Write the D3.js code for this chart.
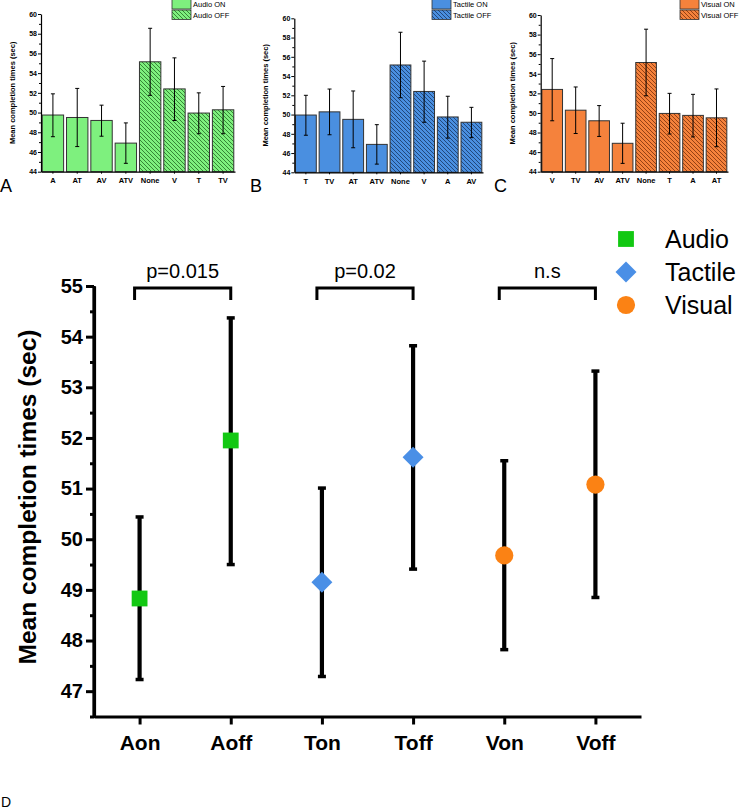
<!DOCTYPE html>
<html><head><meta charset="utf-8">
<script src="https://cdn.jsdelivr.net/npm/d3@7"></script>
<style>body{margin:0;background:#fff}svg{display:block;font-family:"Liberation Sans",Arial,sans-serif}</style>
</head><body>
<svg id="c" width="743" height="809"></svg>
<script>
// ---- Top panels data ----
const panelACats = ["A","AT","AV","ATV","None","V","T","TV"];
const panelAMeans = [49.75,49.5,49.2,46.9,55.15,52.4,49.95,50.28];
const panelALow = [47.55,46.55,47.6,44.85,51.75,49.2,47.85,47.85];
const panelAHigh = [51.9,52.45,50.75,48.95,58.55,55.55,52.0,52.65];

const panelBCats = ["T","TV","AT","ATV","None","V","A","AV"];
const panelBMeans = [49.95,50.28,49.5,46.9,55.15,52.4,49.75,49.2];
const panelBLow = [47.85,47.9,46.55,44.85,51.75,49.2,47.55,47.6];
const panelBHigh = [52.0,52.65,52.45,48.95,58.55,55.55,51.9,50.75];

const panelCCats = ["V","TV","AV","ATV","None","T","A","AT"];
const panelCMeans = [52.4,50.28,49.2,46.9,55.15,49.95,49.75,49.5];
const panelCLow = [49.2,47.9,47.6,44.85,51.75,47.85,47.55,46.55];
const panelCHigh = [55.55,52.65,50.75,48.95,58.55,52.0,51.9,52.45];

const panelYTicks = [44,46,48,50,52,54,56,58,60];

// ---- Main panel data ----
const mainCats = ["Aon","Aoff","Ton","Toff","Von","Voff"];
const mainMeans = [48.83,51.95,49.15,51.62,49.68,51.08];
const mainLow = [47.23,49.5,47.29,49.41,47.82,48.85];
const mainHigh = [50.44,54.37,51.01,53.82,51.55,53.32];
const mainGroup = ["Audio","Audio","Tactile","Tactile","Visual","Visual"];
const mainYTicks = [47,48,49,50,51,52,53,54,55];
const legendNames = ["Audio","Tactile","Visual"];
const brackets = [{a:"Aon",b:"Aoff",label:"p=0.015"},{a:"Ton",b:"Toff",label:"p=0.02"},{a:"Von",b:"Voff",label:"n.s"}];

const svg = d3.select("#c");
const defs = svg.append("defs");

function hatch(id, bg, line){
  const p = defs.append("pattern").attr("id",id).attr("patternUnits","userSpaceOnUse")
    .attr("width",4).attr("height",4);
  p.append("rect").attr("width",4).attr("height",4).attr("fill",bg);
  p.append("path").attr("d","M-1,-1 L5,5 M-1,3 L1,5 M3,-1 L5,1").attr("stroke",line).attr("stroke-width",0.9);
}
hatch("hA","#7ef07e","#2c7a2c");
hatch("hB","#4a8fe0","#1c3f70");
hatch("hC","#f5823c","#8a3a10");

function panel(o){
  const g = svg.append("g");
  const x = d3.scaleBand().domain(o.cats).range([o.x0,o.x1]).paddingInner(0.12).paddingOuter(0.05);
  const y = d3.scaleLinear().domain([44,60]).range([o.yb,o.yt]);
  const idx = d3.range(o.cats.length);
  g.selectAll("rect.bar").data(idx).join("rect")
    .attr("x",i=>x(o.cats[i])).attr("width",x.bandwidth())
    .attr("y",i=>y(o.means[i])).attr("height",i=>y(44)-y(o.means[i]))
    .attr("fill",i=>i>=4?`url(#${o.hid})`:o.color)
    .attr("stroke","#333").attr("stroke-width",1);
  const eb = g.selectAll("g.eb").data(idx).join("g").attr("stroke","#000").attr("stroke-width",1);
  eb.append("line").attr("x1",i=>x(o.cats[i])+x.bandwidth()/2).attr("x2",i=>x(o.cats[i])+x.bandwidth()/2)
    .attr("y1",i=>y(o.low[i])).attr("y2",i=>y(o.high[i]));
  eb.append("line").attr("x1",i=>x(o.cats[i])+x.bandwidth()/2-2).attr("x2",i=>x(o.cats[i])+x.bandwidth()/2+2)
    .attr("y1",i=>y(o.low[i])).attr("y2",i=>y(o.low[i]));
  eb.append("line").attr("x1",i=>x(o.cats[i])+x.bandwidth()/2-2).attr("x2",i=>x(o.cats[i])+x.bandwidth()/2+2)
    .attr("y1",i=>y(o.high[i])).attr("y2",i=>y(o.high[i]));
  const ya = g.append("g").attr("transform",`translate(${o.x0},0)`)
    .call(d3.axisLeft(y).tickValues(panelYTicks).tickSize(3).tickSizeOuter(0));
  g.append("g").attr("transform",`translate(${o.x0},0)`)
    .call(d3.axisLeft(y).tickValues(d3.range(45,60,2)).tickSize(2).tickFormat("").tickSizeOuter(0))
    .select(".domain").remove();
  ya.selectAll("text").attr("font-size",7).attr("font-weight","bold").attr("x",-4);
  const xa = g.append("g").attr("transform",`translate(0,${o.yb})`)
    .call(d3.axisBottom(x).tickSize(2).tickSizeOuter(0));
  xa.selectAll("text").attr("font-size",7.5).attr("font-weight","bold").attr("dy","0.9em");
  g.selectAll(".domain").attr("stroke-width",1.2);
  g.append("text").attr("transform",`translate(${o.x0-26},${(o.yt+o.yb)/2}) rotate(-90)`)
    .attr("text-anchor","middle").attr("font-size",7.5).attr("font-weight","bold").text("Mean completion times (sec)");
  const lg = g.append("g").attr("transform",`translate(${o.lx},0)`);
  lg.append("rect").attr("x",0).attr("y",-1).attr("width",19).attr("height",10).attr("fill",o.color).attr("stroke","#333").attr("stroke-width",0.8);
  lg.append("rect").attr("x",0).attr("y",10).attr("width",19).attr("height",9.5).attr("fill",`url(#${o.hid})`).attr("stroke","#333").attr("stroke-width",0.8);
  lg.append("text").attr("x",21).attr("y",7).attr("font-size",7.5).text(o.name+" ON");
  lg.append("text").attr("x",21).attr("y",17.5).attr("font-size",7.5).text(o.name+" OFF");
  svg.append("text").attr("x",o.letterX).attr("y",192).attr("font-size",18).text(o.letter);
}

panel({cats:panelACats,means:panelAMeans,low:panelALow,high:panelAHigh,x0:41,x1:235,yt:14,yb:171.7,color:"#7ef07e",hid:"hA",name:"Audio",lx:172,letter:"A",letterX:0});
panel({cats:panelBCats,means:panelBMeans,low:panelBLow,high:panelBHigh,x0:294.3,x1:483,yt:18.3,yb:172.3,color:"#4a8fe0",hid:"hB",name:"Tactile",lx:432,letter:"B",letterX:250});
panel({cats:panelCCats,means:panelCMeans,low:panelCLow,high:panelCHigh,x0:540.7,x1:728,yt:15,yb:171.7,color:"#f5823c",hid:"hC",name:"Visual",lx:680,letter:"C",letterX:494});

// ---- Main panel ----
const colors = {Audio:"#12c812",Tactile:"#4a8fe6",Visual:"#fb8214"};
const X0=94, X1=641, YB=716.5, YT=286;
const mx = d3.scalePoint().domain(mainCats).range([X0,X1]).padding(0.5);
const my = d3.scaleLinear().domain([46.5,55]).range([YB,YT]);
const mg = svg.append("g");

const yAx = mg.append("g").attr("transform",`translate(${X0},0)`)
  .call(d3.axisLeft(my).tickValues(mainYTicks).tickSize(8).tickSizeOuter(0).tickFormat(d3.format("d")));
yAx.selectAll("text").attr("font-size",20).attr("font-weight","bold").attr("x",-11).attr("fill","#000");
mg.append("g").attr("transform",`translate(${X0},0)`)
  .call(d3.axisLeft(my).tickValues(d3.range(46.5,55,1)).tickSize(4).tickFormat("").tickSizeOuter(0))
  .select(".domain").remove();
const xAx = mg.append("g").attr("transform",`translate(0,${YB})`)
  .call(d3.axisBottom(mx).tickSize(8).tickSizeOuter(0));
xAx.selectAll("text").attr("font-size",21).attr("font-weight","bold").attr("dy","1.05em").attr("fill","#000");
mg.selectAll(".domain").attr("stroke-width",3.2).attr("stroke","#000");
mg.selectAll(".tick line").attr("stroke-width",3).attr("stroke","#000");
mg.append("line").attr("x1",X0).attr("x2",X0).attr("y1",YT).attr("y2",YB+1.6).attr("stroke","#000").attr("stroke-width",3.2);

mg.append("text").attr("transform",`translate(36,497) rotate(-90)`)
  .attr("text-anchor","middle").attr("font-size",24.5).attr("font-weight","bold").text("Mean completion times (sec)");

const mi = d3.range(mainCats.length);
const ebs = mg.selectAll("g.meb").data(mi).join("g").attr("stroke","#000");
ebs.append("line").attr("x1",i=>mx(mainCats[i])).attr("x2",i=>mx(mainCats[i]))
  .attr("y1",i=>my(mainLow[i])).attr("y2",i=>my(mainHigh[i])).attr("stroke-width",4.2);
ebs.append("line").attr("x1",i=>mx(mainCats[i])-4).attr("x2",i=>mx(mainCats[i])+4)
  .attr("y1",i=>my(mainLow[i])).attr("y2",i=>my(mainLow[i])).attr("stroke-width",3.5);
ebs.append("line").attr("x1",i=>mx(mainCats[i])-4).attr("x2",i=>mx(mainCats[i])+4)
  .attr("y1",i=>my(mainHigh[i])).attr("y2",i=>my(mainHigh[i])).attr("stroke-width",3.5);

const shapes = {Audio:d3.symbolSquare,Tactile:d3.symbolSquare,Visual:d3.symbolCircle};
const sizes = {Audio:250,Tactile:220,Visual:260};
function sym(name){ return d3.symbol().type(shapes[name]).size(sizes[name])(); }
function symT(name,x,y){ return name==="Tactile"?`translate(${x},${y}) rotate(45)`:`translate(${x},${y})`; }
mg.selectAll("path.pt").data(mi).join("path")
  .attr("d",i=>sym(mainGroup[i])).attr("transform",i=>symT(mainGroup[i],mx(mainCats[i]),my(mainMeans[i])))
  .attr("fill",i=>colors[mainGroup[i]]);

brackets.forEach(b=>{
  const xa = mx(b.a)-5, xb = mx(b.b);
  const yTop = 288, yLeg = 300;
  mg.append("path").attr("d",`M${xa},${yLeg} V${yTop} H${xb} V${yLeg}`)
    .attr("fill","none").attr("stroke","#000").attr("stroke-width",3);
  mg.append("text").attr("x",(xa+xb)/2).attr("y",278).attr("text-anchor","middle").attr("font-size",20).text(b.label);
});

legendNames.forEach((n,i)=>{
  const ly = 239 + i*33;
  mg.append("path").attr("d",sym(n)).attr("transform",symT(n,626,ly)).attr("fill",colors[n]);
  mg.append("text").attr("x",665).attr("y",ly+9).attr("font-size",25).text(n);
});

svg.append("text").attr("x",1).attr("y",807).attr("font-size",14).text("D");
</script>
</body></html>
